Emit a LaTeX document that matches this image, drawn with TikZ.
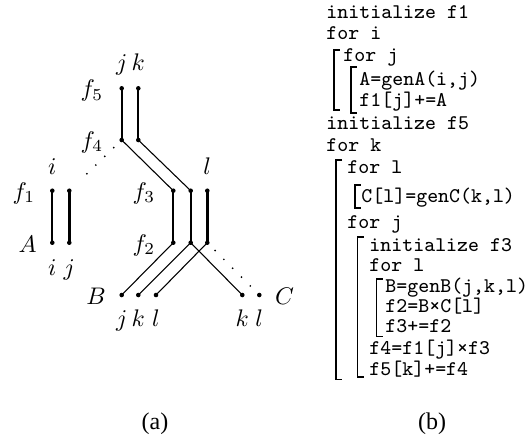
\documentclass[tikz,border=0pt]{standalone}
\usepackage{fontspec}
\newfontfamily\capfont{Liberation Serif}
\begin{document}
\begin{tikzpicture}[x=0.41667pt,y=-0.41667pt,
  dot/.style={circle,fill,inner sep=0pt,minimum size=1.9pt},
  bar/.style={line width=0.95pt},
  heavybar/.style={line width=1.35pt},
  link/.style={line width=0.45pt},
  dotline/.style={line width=0.8pt,dash pattern=on 0pt off 5.2pt,line cap=round,shorten <=4.6pt,shorten >=5pt},
  lbl/.style={inner sep=0pt},
  idx/.style={inner sep=0pt,anchor=base},
  code/.style={inner sep=0pt,anchor=base west,font=\ttfamily\fontsize{8.7}{10}\selectfont},
  brk/.style={line width=0.65pt},
  captext/.style={inner sep=0pt,anchor=base,font=\capfont\fontsize{10}{12}\selectfont}]
\useasboundingbox (0,0) rectangle (530,439);

% ---- dots ----
\node[dot] (f5j) at (121.7,88.3) {};
\node[dot] (f5k) at (138.3,88.3) {};
\node[dot] (f4j) at (121.7,140) {};
\node[dot] (f4k) at (138.3,140) {};
\node[dot] (Ati) at (52.3,190.7) {};
\node[dot] (Atj) at (69.3,190.7) {};
\node[dot] (Abi) at (52.3,242.7) {};
\node[dot] (Abj) at (69.3,242.7) {};
\node[dot] (f3j) at (173.3,190.7) {};
\node[dot] (f3k) at (190.7,190.7) {};
\node[dot] (f3l) at (207.3,190.7) {};
\node[dot] (f2j) at (173.3,242.7) {};
\node[dot] (f2k) at (190.7,242.7) {};
\node[dot] (f2l) at (207.3,242.7) {};
\node[dot] (Bj) at (121.7,295) {};
\node[dot] (Bk) at (138.3,295) {};
\node[dot] (Bl) at (156,295) {};
\node[dot] (Ck) at (242.3,295) {};
\node[dot] (Cl) at (259.3,295) {};

% ---- connectors ----
\draw[bar] (f5j.center) -- (f4j.center);
\draw[bar] (f5k.center) -- (f4k.center);
\draw[bar] (Ati.center) -- (Abi.center);
\draw[heavybar] (Atj.center) -- (Abj.center);
\draw[bar] (f3j.center) -- (f2j.center);
\draw[bar] (f3k.center) -- (f2k.center);
\draw[heavybar] (f3l.center) -- (f2l.center);
\draw[link] (f4j.center) -- (f3j.center);
\draw[link] (f4k.center) -- (f3k.center);
\draw[link] (f2j.center) -- (Bj.center);
\draw[link] (f2k.center) -- (Bk.center);
\draw[link] (f2l.center) -- (Bl.center);
\draw[link] (f2k.center) -- (Ck.center);
\draw[dotline] (f4j.center) -- (Atj.center);
\draw[dotline] (f2l.center) -- (Cl.center);

% ---- labels ----
\node[idx] (lj5) at (121.7,70.5) {$j$};
\node[idx] (lk5) at (138.3,70.5) {$k$};
\node[lbl] (lf5) at (92,90.5) {$f_5$};
\node[lbl] (lf4) at (92,142) {$f_4$};
\node[idx] (li1) at (52.3,174.5) {$i$};
\node[idx] (ll3) at (207.3,174.5) {$l$};
\node[lbl] (lf1) at (24,193) {$f_1$};
\node[lbl] (lf3) at (144,193) {$f_3$};
\node[lbl] (lA) at (27.5,244) {$A$};
\node[lbl] (lf2) at (144,245) {$f_2$};
\node[idx] (lia) at (52.3,275.5) {$i$};
\node[idx] (lja) at (69.3,275.5) {$j$};
\node[lbl] (lB) at (96,296.5) {$B$};
\node[lbl] (lC) at (284.5,296.5) {$C$};
\node[idx] (ljb) at (121.7,326.5) {$j$};
\node[idx] (lkb) at (138.3,326.5) {$k$};
\node[idx] (llb) at (156,326.5) {$l$};
\node[idx] (lkc) at (242.3,326.5) {$k$};
\node[idx] (llc) at (259.3,326.5) {$l$};

% ---- code ----
\node[code] (c1) at (326,18.5) {initialize f1};
\node[code] (c2) at (326,39.5) {for i};
\node[code] (c3) at (343,61.5) {for j};
\node[code] (c4) at (359,85) {A=genA(i,j)};
\node[code] (c5) at (359,106) {f1[j]+=A};
\node[code] (c6) at (326,129.5) {initialize f5};
\node[code] (c7) at (326,151.5) {for k};
\node[code] (c8) at (347,173) {for l};
\node[code] (c9) at (361,202.5) {C[l]=genC(k,l)};
\node[code] (c10) at (347,228) {for j};
\node[code] (c11) at (369,251.5) {initialize f3};
\node[code] (c12) at (369,271) {for l};
\node[code] (c13) at (385,292.5) {B=genB(j,k,l)};
\node[code] (c14) at (385,312) {f2=B×C[l]};
\node[code] (c15) at (385,332) {f3+=f2};
\node[code] (c16) at (369,354.5) {f4=f1[j]×f3};
\node[code] (c17) at (369,375) {f5[k]+=f4};

% ---- brackets ----
\draw[brk] (339.5,50) -- (334,50) -- (334,110) -- (339.5,110);
\draw[brk] (356.5,67) -- (351,67) -- (351,113) -- (356.5,113);
\draw[brk] (342,160) -- (336,160) -- (336,379.5) -- (342,379.5);
\draw[brk] (360.5,185) -- (355,185) -- (355,208) -- (360.5,208);
\draw[brk] (363.5,237) -- (357.7,237) -- (357.7,377) -- (363.5,377);
\draw[brk] (382.5,279) -- (376.7,279) -- (376.7,336.5) -- (382.5,336.5);

% ---- captions ----
\node[captext] (capa) at (155,429) {(a)};
\node[captext] (capb) at (432,429) {(b)};
\end{tikzpicture}
\end{document}
